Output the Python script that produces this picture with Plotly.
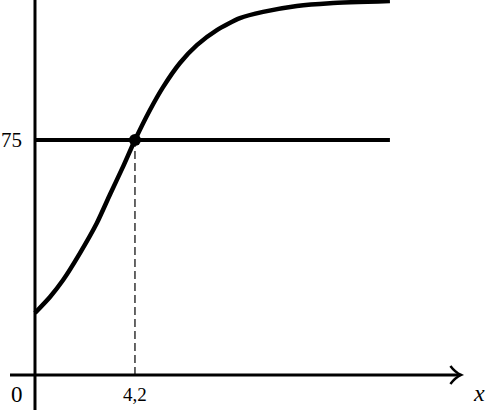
import plotly.graph_objects as go

# curve values
curve_x = [0, 0.63, 1.18, 1.89, 2.6, 3.15, 3.7, 4.2, 4.83, 5.38, 6.09, 6.8, 7.64, 8.61, 9.58, 11.0, 12.39, 14.91]
curve_y = [19.8, 24.9, 30.3, 38.9, 48.5, 57.6, 66.5, 75, 84.6, 91.9, 99.6, 105.3, 110.1, 113.9, 115.9, 117.8, 118.7, 119.4]

# the level line and the point where the curve meets it
level_y = 75
level_x_end = 14.91
point_x = 4.2
point_y = 75

x_labels = ["0", "4,2"]
y_label = "75"
axis_name = "x"

font_family = "Liberation Serif, DejaVu Serif, serif"

fig = go.Figure()

# level line y = 75
fig.add_trace(go.Scatter(
    x=[0, level_x_end], y=[level_y, level_y],
    mode="lines", line=dict(color="black", width=4),
    hoverinfo="skip", showlegend=False,
))

# the curve
fig.add_trace(go.Scatter(
    x=curve_x, y=curve_y,
    mode="lines", line=dict(color="black", width=4.5, shape="spline", smoothing=0.6),
    hoverinfo="skip", showlegend=False,
))

# dashed drop line
fig.add_trace(go.Scatter(
    x=[point_x, point_x], y=[0, point_y],
    mode="lines", line=dict(color="black", width=1.2, dash="8px,4px"),
    hoverinfo="skip", showlegend=False,
))

# intersection point
fig.add_trace(go.Scatter(
    x=[point_x], y=[point_y],
    mode="markers", marker=dict(color="black", size=12),
    hoverinfo="skip", showlegend=False,
))

# axes drawn by hand (x axis with open arrow head)
fig.add_shape(type="line", x0=-1.05, x1=17.8, y0=0, y1=0,
              line=dict(color="black", width=3))
fig.add_shape(type="line", x0=0, x1=0, y0=-11.2, y1=120,
              line=dict(color="black", width=3))
fig.add_shape(type="path",
              path="M 17.45,2.9 Q 17.65,0.9 17.9,0 Q 17.65,-0.9 17.45,-2.9",
              line=dict(color="black", width=2.5))

# labels
fig.add_annotation(x=0, y=0, text=x_labels[0], showarrow=False,
                   xshift=-18, yshift=-20, font=dict(size=23))
fig.add_annotation(x=point_x, y=0, text=x_labels[1], showarrow=False,
                   yshift=-20, font=dict(size=19))
fig.add_annotation(x=0, y=level_y, text=y_label, showarrow=False,
                   xanchor="right", xshift=-11, font=dict(size=21))
fig.add_annotation(x=18.65, y=0, text="<i>" + axis_name + "</i>", showarrow=False,
                   yshift=-18, font=dict(size=24))

fig.update_xaxes(range=[-1.47, 19.03], visible=False, fixedrange=True)
fig.update_yaxes(range=[-11.5, 119.7], visible=False, fixedrange=True)

fig.update_layout(
    width=488,
    height=411,
    margin=dict(l=0, r=0, t=0, b=0),
    paper_bgcolor="white",
    plot_bgcolor="white",
    font=dict(family=font_family, color="black"),
)

# drop the default page margin so the figure sits at the window corner
fig.write_html("out.html", post_script="document.body.style.margin = '0';",
               config={"displayModeBar": False})
